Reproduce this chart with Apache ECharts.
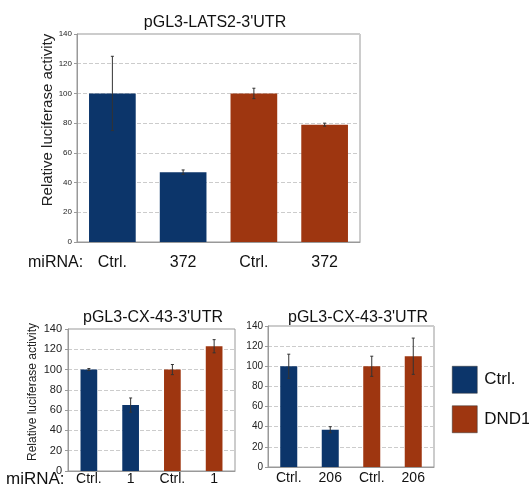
<!DOCTYPE html>
<html>
<head>
<meta charset="utf-8">
<script src="https://cdn.jsdelivr.net/npm/echarts@6/dist/echarts.min.js"></script>
<style>
html,body{margin:0;padding:0;background:#fff;}
#main{width:529px;height:492px;}
</style>
</head>
<body>
<div id="main"></div>
<script>
// data
var lats2Labels = ["Ctrl.", "372", "Ctrl.", "372"];
var lats2Values = [100, 47, 100, 79];
var lats2Errors = [25, 1.5, 3.5, 1];

var mir1Labels = ["Ctrl.", "1", "Ctrl.", "1"];
var mir1Values = [100, 65, 100, 123];
var mir1Errors = [1, 7, 5, 6.5];

var mir206Labels = ["Ctrl.", "206", "Ctrl.", "206"];
var mir206Values = [100, 37, 100, 110];
var mir206Errors = [12, 3, 10, 18];

// first two bars are Ctrl., last two DND1
var groupOf = [0, 0, 1, 1];
var legendNames = ["Ctrl.", "DND1"];
var colors = ["#0c356a", "#9e3610"];

var chart = echarts.init(document.getElementById("main"));
var font = "Liberation Sans";

function xAxisFor(idx, labels, size, margin) {
    return {
        type: "category",
        gridIndex: idx,
        data: labels,
        axisLine: {show: true, lineStyle: {color: "#999", width: 1}},
        axisTick: {show: false},
        axisLabel: {color: "#111", fontSize: size, fontFamily: font, margin: margin, interval: 0}
    };
}

function yAxisFor(idx, size, margin) {
    return {
        type: "value",
        gridIndex: idx,
        min: 0,
        max: 140,
        interval: 20,
        axisLine: {show: true, lineStyle: {color: "#999", width: 1}},
        axisTick: {show: true, length: 3, lineStyle: {color: "#999"}},
        axisLabel: {color: "#222", fontSize: size, fontFamily: font, margin: margin},
        splitLine: {show: true, lineStyle: {color: "#ccc", type: "dashed", width: 1}}
    };
}

function barSeries(idx, values, width) {
    var out = [];
    for (var g = 0; g < 2; g++) {
        var d = values.map(function (v, i) { return groupOf[i] === g ? v : "-"; });
        out.push({
            name: legendNames[g],
            type: "bar",
            xAxisIndex: idx,
            yAxisIndex: idx,
            barWidth: width,
            barGap: "-100%",
            itemStyle: {color: colors[g]},
            data: d
        });
    }
    return out;
}

function errorSeries(idx, values, errors) {
    var d = values.map(function (v, i) { return [i, v - errors[i], v + errors[i]]; });
    return {
        type: "custom",
        xAxisIndex: idx,
        yAxisIndex: idx,
        silent: true,
        z: 10,
        encode: {x: 0, y: [1, 2]},
        renderItem: function (params, api) {
            var lo = api.coord([api.value(0), api.value(1)]);
            var hi = api.coord([api.value(0), api.value(2)]);
            var w = 1.5;
            var st = {stroke: "#333", lineWidth: 1};
            return {
                type: "group",
                children: [
                    {type: "line", shape: {x1: hi[0], y1: hi[1], x2: lo[0], y2: lo[1]}, style: st},
                    {type: "line", shape: {x1: hi[0] - w, y1: hi[1], x2: hi[0] + w, y2: hi[1]}, style: st},
                    {type: "line", shape: {x1: lo[0] - w, y1: lo[1], x2: lo[0] + w, y2: lo[1]}, style: st}
                ]
            };
        },
        data: d
    };
}

var option = {
    backgroundColor: "#fff",
    animation: false,
    title: [
        {text: "pGL3-LATS2-3'UTR", left: 210, top: 10, textAlign: "center",
            textStyle: {fontSize: 16, fontWeight: "normal", color: "#111", fontFamily: font}},
        {text: "pGL3-CX-43-3'UTR", left: 148, top: 305, textAlign: "center",
            textStyle: {fontSize: 16, fontWeight: "normal", color: "#111", fontFamily: font}},
        {text: "pGL3-CX-43-3'UTR", left: 353, top: 305, textAlign: "center",
            textStyle: {fontSize: 16, fontWeight: "normal", color: "#111", fontFamily: font}}
    ],
    legend: {
        orient: "vertical",
        left: 452,
        top: 366,
        padding: 0,
        itemWidth: 25,
        itemHeight: 27,
        itemGap: 12,
        icon: "rect",
        data: legendNames,
        itemStyle: {borderColor: "#333", borderWidth: 0.5},
        textStyle: {fontSize: 17, color: "#111", fontFamily: font, padding: [0, 0, 0, 2]}
    },
    grid: [
        {left: 77, top: 34, width: 283, height: 208, show: true, borderColor: "#999", borderWidth: 1},
        {left: 68, top: 329, width: 167, height: 142, show: true, borderColor: "#999", borderWidth: 1},
        {left: 268, top: 326, width: 166, height: 141, show: true, borderColor: "#999", borderWidth: 1}
    ],
    xAxis: [
        xAxisFor(0, lats2Labels, 16, 13),
        xAxisFor(1, mir1Labels, 14, 1),
        xAxisFor(2, mir206Labels, 14, 4)
    ],
    yAxis: [
        yAxisFor(0, 8, 5),
        yAxisFor(1, 11, 6),
        yAxisFor(2, 10, 5)
    ],
    graphic: [
        {type: "text", x: 48, y: 120, rotation: Math.PI / 2,
            style: {text: "Relative luciferase activity", font: "15px " + font, fill: "#222",
                align: "center", verticalAlign: "middle", textAlign: "center", textVerticalAlign: "middle"}},
        {type: "text", x: 33, y: 392, rotation: Math.PI / 2,
            style: {text: "Relative luciferase activity", font: "12px " + font, fill: "#222",
                align: "center", verticalAlign: "middle", textAlign: "center", textVerticalAlign: "middle"}},
        {type: "text", x: 28, y: 263,
            style: {text: "miRNA:", font: "16px " + font, fill: "#111",
                verticalAlign: "middle", textVerticalAlign: "middle"}},
        {type: "text", x: 6, y: 479,
            style: {text: "miRNA:", font: "17px " + font, fill: "#111",
                verticalAlign: "middle", textVerticalAlign: "middle"}}
    ],
    series: [].concat(
        barSeries(0, lats2Values, "66%"),
        barSeries(1, mir1Values, "40%"),
        barSeries(2, mir206Values, "41%"),
        [
            errorSeries(0, lats2Values, lats2Errors),
            errorSeries(1, mir1Values, mir1Errors),
            errorSeries(2, mir206Values, mir206Errors)
        ]
    )
};
chart.setOption(option);
</script>
</body>
</html>
